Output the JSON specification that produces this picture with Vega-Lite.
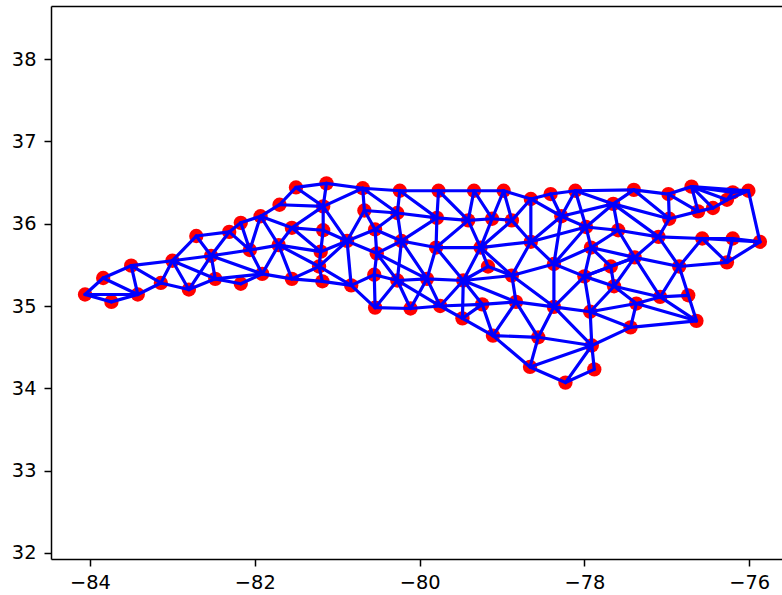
{
"$schema":"https://vega.github.io/schema/vega-lite/v6.json",
"autosize":"none",
"padding":{"left":51,"top":6,"right":0,"bottom":36},
"width":731,"height":553,
"background":"white",
"view":{"stroke":null},
"datasets":{
"nodes":[
{"id":1,"lon":-84.06,"lat":35.14},{"id":2,"lon":-83.74,"lat":35.05},{"id":3,"lon":-83.84,"lat":35.34},{"id":4,"lon":-83.42,"lat":35.14},{"id":5,"lon":-83.50,"lat":35.49},
{"id":6,"lon":-83.14,"lat":35.28},{"id":7,"lon":-83.00,"lat":35.55},{"id":8,"lon":-82.80,"lat":35.20},{"id":9,"lon":-82.71,"lat":35.85},{"id":10,"lon":-82.53,"lat":35.61},
{"id":11,"lon":-82.48,"lat":35.33},{"id":12,"lon":-82.17,"lat":35.27},{"id":13,"lon":-82.31,"lat":35.90},{"id":14,"lon":-82.17,"lat":36.01},{"id":15,"lon":-81.93,"lat":36.09},
{"id":16,"lon":-82.06,"lat":35.68},{"id":17,"lon":-81.91,"lat":35.39},{"id":18,"lon":-81.70,"lat":36.23},{"id":19,"lon":-81.50,"lat":36.44},{"id":20,"lon":-81.13,"lat":36.49},
{"id":21,"lon":-81.17,"lat":36.21},{"id":22,"lon":-81.55,"lat":35.95},{"id":23,"lon":-81.71,"lat":35.74},{"id":24,"lon":-81.17,"lat":35.92},{"id":25,"lon":-81.20,"lat":35.66},
{"id":26,"lon":-81.22,"lat":35.48},{"id":27,"lon":-81.55,"lat":35.33},{"id":28,"lon":-81.18,"lat":35.30},{"id":29,"lon":-80.83,"lat":35.25},{"id":30,"lon":-80.88,"lat":35.79},
{"id":31,"lon":-80.69,"lat":36.43},{"id":32,"lon":-80.67,"lat":36.16},{"id":33,"lon":-80.54,"lat":35.93},{"id":34,"lon":-80.52,"lat":35.64},{"id":35,"lon":-80.55,"lat":35.38},
{"id":36,"lon":-80.54,"lat":34.98},{"id":37,"lon":-80.24,"lat":36.40},{"id":38,"lon":-80.27,"lat":36.13},{"id":39,"lon":-80.22,"lat":35.79},{"id":40,"lon":-80.27,"lat":35.31},
{"id":41,"lon":-80.11,"lat":34.97},{"id":42,"lon":-79.91,"lat":35.33},{"id":43,"lon":-79.79,"lat":36.07},{"id":44,"lon":-79.80,"lat":35.71},{"id":45,"lon":-79.77,"lat":36.40},
{"id":46,"lon":-79.75,"lat":35.00},{"id":47,"lon":-79.34,"lat":36.40},{"id":48,"lon":-78.98,"lat":36.40},{"id":49,"lon":-78.65,"lat":36.30},{"id":50,"lon":-78.41,"lat":36.36},
{"id":51,"lon":-78.11,"lat":36.40},{"id":52,"lon":-79.41,"lat":36.04},{"id":53,"lon":-79.12,"lat":36.06},{"id":54,"lon":-78.88,"lat":36.04},{"id":55,"lon":-78.28,"lat":36.09},
{"id":56,"lon":-77.98,"lat":35.96},{"id":57,"lon":-78.65,"lat":35.78},{"id":58,"lon":-79.26,"lat":35.71},{"id":59,"lon":-79.17,"lat":35.48},{"id":60,"lon":-77.92,"lat":35.71},
{"id":61,"lon":-78.37,"lat":35.51},{"id":62,"lon":-78.88,"lat":35.37},{"id":63,"lon":-79.47,"lat":35.31},{"id":64,"lon":-78.00,"lat":35.36},{"id":65,"lon":-79.24,"lat":35.02},
{"id":66,"lon":-78.83,"lat":35.05},{"id":67,"lon":-78.37,"lat":34.99},{"id":68,"lon":-77.93,"lat":34.93},{"id":69,"lon":-79.48,"lat":34.85},{"id":70,"lon":-77.40,"lat":36.41},
{"id":71,"lon":-77.65,"lat":36.24},{"id":72,"lon":-76.98,"lat":36.36},{"id":73,"lon":-76.70,"lat":36.45},{"id":74,"lon":-76.20,"lat":36.38},{"id":75,"lon":-76.01,"lat":36.40},
{"id":76,"lon":-76.27,"lat":36.29},{"id":77,"lon":-76.44,"lat":36.19},{"id":78,"lon":-76.62,"lat":36.15},{"id":79,"lon":-76.97,"lat":36.06},{"id":80,"lon":-77.59,"lat":35.92},
{"id":81,"lon":-77.10,"lat":35.84},{"id":82,"lon":-76.57,"lat":35.82},{"id":83,"lon":-76.20,"lat":35.82},{"id":84,"lon":-75.87,"lat":35.78},{"id":85,"lon":-77.39,"lat":35.59},
{"id":86,"lon":-76.27,"lat":35.53},{"id":87,"lon":-76.85,"lat":35.48},{"id":88,"lon":-77.68,"lat":35.48},{"id":89,"lon":-77.64,"lat":35.24},{"id":90,"lon":-77.08,"lat":35.11},
{"id":91,"lon":-76.74,"lat":35.13},{"id":92,"lon":-77.37,"lat":35.03},{"id":93,"lon":-76.64,"lat":34.82},{"id":94,"lon":-77.44,"lat":34.74},{"id":95,"lon":-79.11,"lat":34.64},
{"id":96,"lon":-78.56,"lat":34.62},{"id":97,"lon":-77.91,"lat":34.52},{"id":98,"lon":-78.66,"lat":34.26},{"id":99,"lon":-77.88,"lat":34.23},{"id":100,"lon":-78.23,"lat":34.07}
],
"edges":[
{"a":1,"b":2},{"a":1,"b":3},{"a":1,"b":4},{"a":2,"b":4},{"a":3,"b":4},{"a":3,"b":5},{"a":4,"b":5},{"a":4,"b":6},{"a":5,"b":6},{"a":5,"b":7},{"a":6,"b":7},{"a":6,"b":8},{"a":7,"b":8},{"a":7,"b":9},{"a":7,"b":10},{"a":7,"b":11},{"a":8,"b":10},{"a":8,"b":11},{"a":9,"b":10},{"a":9,"b":13},{"a":10,"b":11},{"a":10,"b":13},{"a":10,"b":16},{"a":10,"b":17},{"a":11,"b":12},{"a":11,"b":17},{"a":12,"b":17},{"a":13,"b":14},{"a":13,"b":16},{"a":14,"b":15},{"a":14,"b":16},{"a":15,"b":16},{"a":15,"b":18},{"a":15,"b":22},{"a":15,"b":23},{"a":16,"b":17},{"a":16,"b":23},{"a":17,"b":23},{"a":17,"b":27},
{"a":18,"b":19},{"a":18,"b":21},{"a":19,"b":20},{"a":19,"b":21},{"a":20,"b":21},{"a":20,"b":31},{"a":21,"b":22},{"a":21,"b":24},{"a":21,"b":30},{"a":21,"b":31},{"a":22,"b":23},{"a":22,"b":24},{"a":22,"b":25},{"a":23,"b":25},{"a":23,"b":26},{"a":23,"b":27},{"a":24,"b":25},{"a":24,"b":30},{"a":25,"b":26},{"a":25,"b":30},{"a":26,"b":27},{"a":26,"b":28},{"a":26,"b":29},{"a":26,"b":30},{"a":27,"b":28},{"a":28,"b":29},{"a":29,"b":30},{"a":29,"b":35},{"a":29,"b":36},
{"a":30,"b":32},{"a":30,"b":33},{"a":30,"b":34},{"a":31,"b":32},{"a":31,"b":37},{"a":31,"b":38},{"a":32,"b":33},{"a":32,"b":38},{"a":33,"b":34},{"a":33,"b":38},{"a":33,"b":39},{"a":34,"b":35},{"a":34,"b":39},{"a":34,"b":40},{"a":34,"b":42},{"a":35,"b":36},{"a":35,"b":40},{"a":36,"b":40},{"a":36,"b":41},{"a":37,"b":38},{"a":37,"b":43},{"a":37,"b":45},{"a":38,"b":39},{"a":38,"b":43},{"a":39,"b":40},{"a":39,"b":42},{"a":39,"b":43},{"a":39,"b":44},{"a":40,"b":41},{"a":40,"b":42},{"a":40,"b":46},{"a":41,"b":42},{"a":41,"b":46},{"a":42,"b":44},{"a":42,"b":46},{"a":42,"b":63},
{"a":43,"b":44},{"a":43,"b":45},{"a":43,"b":52},{"a":44,"b":52},{"a":44,"b":58},{"a":44,"b":63},{"a":45,"b":47},{"a":45,"b":52},{"a":46,"b":63},{"a":46,"b":65},{"a":46,"b":69},{"a":47,"b":48},{"a":47,"b":52},{"a":47,"b":53},{"a":48,"b":49},{"a":48,"b":53},{"a":48,"b":54},{"a":49,"b":50},{"a":49,"b":54},{"a":49,"b":55},{"a":49,"b":57},{"a":50,"b":51},{"a":50,"b":55},{"a":51,"b":55},{"a":51,"b":56},{"a":51,"b":70},{"a":51,"b":71},{"a":52,"b":53},{"a":52,"b":58},{"a":53,"b":54},{"a":53,"b":58},{"a":54,"b":57},{"a":54,"b":58},{"a":55,"b":56},{"a":55,"b":57},{"a":55,"b":61},{"a":55,"b":71},{"a":56,"b":57},{"a":56,"b":60},{"a":56,"b":61},{"a":56,"b":71},{"a":56,"b":80},
{"a":57,"b":58},{"a":57,"b":61},{"a":57,"b":62},{"a":58,"b":59},{"a":58,"b":62},{"a":58,"b":63},{"a":59,"b":62},{"a":59,"b":63},{"a":60,"b":61},{"a":60,"b":64},{"a":60,"b":80},{"a":60,"b":85},{"a":60,"b":88},{"a":61,"b":62},{"a":61,"b":64},{"a":61,"b":67},{"a":62,"b":63},{"a":62,"b":66},{"a":62,"b":67},{"a":63,"b":65},{"a":63,"b":66},{"a":63,"b":69},{"a":64,"b":67},{"a":64,"b":68},{"a":64,"b":85},{"a":64,"b":88},{"a":64,"b":89},{"a":65,"b":66},{"a":65,"b":69},{"a":65,"b":95},{"a":66,"b":67},{"a":66,"b":95},{"a":66,"b":96},{"a":67,"b":68},{"a":67,"b":96},{"a":67,"b":97},{"a":68,"b":89},{"a":68,"b":92},{"a":68,"b":94},{"a":68,"b":97},{"a":69,"b":95},
{"a":70,"b":71},{"a":70,"b":72},{"a":70,"b":79},{"a":71,"b":79},{"a":71,"b":80},{"a":71,"b":81},{"a":72,"b":73},{"a":72,"b":78},{"a":72,"b":79},{"a":73,"b":74},{"a":73,"b":75},{"a":73,"b":76},{"a":73,"b":77},{"a":73,"b":78},{"a":74,"b":75},{"a":74,"b":76},{"a":75,"b":76},{"a":75,"b":84},{"a":76,"b":77},{"a":77,"b":78},{"a":78,"b":79},{"a":79,"b":81},{"a":80,"b":81},{"a":80,"b":85},{"a":81,"b":82},{"a":81,"b":85},{"a":81,"b":87},{"a":82,"b":83},{"a":82,"b":84},{"a":82,"b":86},{"a":82,"b":87},{"a":83,"b":84},{"a":83,"b":86},{"a":84,"b":86},{"a":85,"b":87},{"a":85,"b":88},{"a":85,"b":89},{"a":85,"b":90},{"a":86,"b":87},{"a":87,"b":90},{"a":87,"b":93},{"a":88,"b":89},{"a":89,"b":90},{"a":89,"b":92},{"a":90,"b":91},{"a":90,"b":92},{"a":90,"b":93},{"a":92,"b":93},{"a":92,"b":94},{"a":93,"b":94},{"a":94,"b":97},
{"a":95,"b":96},{"a":95,"b":98},{"a":96,"b":97},{"a":96,"b":98},{"a":97,"b":98},{"a":97,"b":99},{"a":97,"b":100},{"a":98,"b":100},{"a":99,"b":100}
]},
"layer":[
{"data":{"name":"nodes"},
 "mark":{"type":"point","filled":true,"color":"#ff0000","opacity":1,"size":205,"clip":true},
 "encoding":{
  "x":{"field":"lon","type":"quantitative","scale":{"domain":[-84.473,-75.602],"nice":false,"zero":false},
   "axis":{"title":null,"values":[-84,-82,-80,-78,-76],"format":"d","grid":false,"domain":true,"domainColor":"#000","domainWidth":1.5,"tickColor":"#000","tickSize":7,"tickWidth":1.5,"labelColor":"#000","labelFont":"DejaVu Sans","labelFontSize":19.4,"labelPadding":7}},
  "y":{"field":"lat","type":"quantitative","scale":{"domain":[31.927,38.644],"nice":false,"zero":false},
   "axis":{"title":null,"values":[32,33,34,35,36,37,38],"format":"d","grid":false,"domain":true,"domainColor":"#000","domainWidth":1.5,"tickColor":"#000","tickSize":7,"tickWidth":1.5,"labelColor":"#000","labelFont":"DejaVu Sans","labelFontSize":19.4,"labelPadding":8}}
 }},
{"data":{"name":"edges"},
 "transform":[
  {"lookup":"a","from":{"data":{"name":"nodes"},"key":"id","fields":["lon","lat"]},"as":["lon1","lat1"]},
  {"lookup":"b","from":{"data":{"name":"nodes"},"key":"id","fields":["lon","lat"]},"as":["lon2","lat2"]}
 ],
 "mark":{"type":"rule","color":"#0000ff","strokeWidth":3.2,"strokeCap":"round","clip":true},
 "encoding":{
  "x":{"field":"lon1","type":"quantitative","axis":{"orient":"top","title":null,"labels":false,"ticks":false,"grid":false,"domain":true,"domainColor":"#000","domainWidth":1.5}},
  "x2":{"field":"lon2"},
  "y":{"field":"lat1","type":"quantitative"},
  "y2":{"field":"lat2"}
 }}
],
"resolve":{"axis":{"x":"independent"}}
}
